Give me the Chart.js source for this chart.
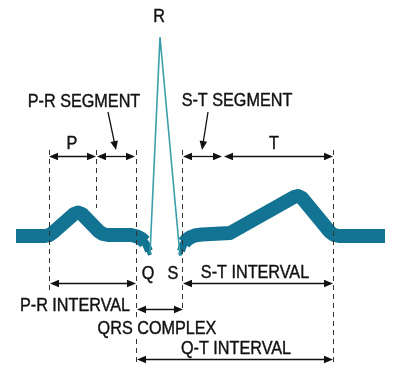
<!DOCTYPE html>
<html><head><meta charset="utf-8">
<script src="https://cdn.jsdelivr.net/npm/chart.js@4/dist/chart.umd.min.js"></script>
<style>html,body{margin:0;padding:0;background:#fff;}canvas{display:block;}</style>
</head><body>
<canvas id="c" width="395" height="369"></canvas>
<script>
// ECG waveform: time (arbitrary units) and amplitude (baseline = 0)
const preQTime = [16, 45, 49, 53, 74, 78, 82, 99, 103, 108, 131, 137, 141, 145];
const preQAmp  = [0, 0, 0.8, 3.5, 22, 23.5, 22, 4.5, 2, 1, 1, -0.5, -2.5, -6];
const qTailTime = [143, 146.5, 149];
const qTailAmp  = [-4, -9, -15];
const qTipTime  = [148, 150];
const qTipAmp   = [-13, -19];
const qrsTime  = [150, 160, 180];
const qrsAmp   = [-18, 199, -20];
const sTipTime  = [180, 181.5];
const sTipAmp   = [-19, -14];
const sTailTime = [181, 183, 186];
const sTailAmp  = [-15, -9, -5];
const postSTime = [184, 187, 191, 196, 202, 230, 294, 298, 302, 330, 334, 339, 385];
const postSAmp  = [-7, -3.5, -1, 0.8, 1.5, 3, 39, 40, 38, 4, 1, 0, 0];

// Boundaries (time) of the waves / segments
const boundaryTime = [49, 96, 136, 182, 333];
const boundaryTop  = [86, 86, 86, 86, 86];
const boundaryBot  = [-54, 28, -130, -76, -130];

// Interval arrows: start, end, level
const spanNames = ["P", "P-R SEGMENT", "S-T SEGMENT", "T", "P-R INTERVAL", "S-T INTERVAL", "QRS COMPLEX", "Q-T INTERVAL"];
const spanStart = [49, 97, 183, 224, 50, 183, 137, 137];
const spanEnd   = [96, 135, 222, 333, 136, 333, 183, 333];
const spanLevel = [80, 80, 80, 80, -47, -47, -73, -123];

// Text labels
const labelText = ["R", "P-R SEGMENT", "S-T SEGMENT", "P", "T", "Q", "S", "S-T INTERVAL", "P-R INTERVAL", "QRS COMPLEX", "Q-T INTERVAL"];
const labelTime = [159, 84, 237, 72, 274, 148, 173, 255, 75, 157, 236];
const labelAmp  = [220, 135, 136, 93, 93, -37, -37, -36, -69, -92, -112];

// Pointer arrows (from label to segment)
const pointerFromTime = [108, 208];
const pointerFromAmp  = [124, 124];
const pointerToTime   = [116, 202];
const pointerToAmp    = [86, 86];

const pts = (xs, ys) => xs.map((x, i) => ({x: x, y: ys[i]}));
const WAVE = '#137393';

function arrowHead(ctx, x, y, ang) {
  const L = 9, W = 3.8;
  ctx.save();
  ctx.translate(x, y);
  ctx.rotate(ang);
  ctx.beginPath();
  ctx.moveTo(0, 0);
  ctx.lineTo(-L, -W);
  ctx.lineTo(-L, W);
  ctx.closePath();
  ctx.fill();
  ctx.restore();
}

const annot = {
  id: 'annot',
  afterDatasetsDraw(chart) {
    const ctx = chart.ctx;
    const X = v => chart.scales.x.getPixelForValue(v);
    const Y = v => chart.scales.y.getPixelForValue(v);
    ctx.save();
    ctx.strokeStyle = '#333';
    ctx.lineWidth = 1;
    ctx.setLineDash([5, 4]);
    boundaryTime.forEach((t, i) => {
      const x = Math.round(X(t)) + 0.5;
      ctx.beginPath();
      ctx.moveTo(x, Y(boundaryTop[i]));
      ctx.lineTo(x, Y(boundaryBot[i]));
      ctx.stroke();
    });
    ctx.setLineDash([]);
    ctx.strokeStyle = '#111';
    ctx.fillStyle = '#111';
    ctx.lineWidth = 1.3;
    spanStart.forEach((s, i) => {
      const x0 = X(s), x1 = X(spanEnd[i]), y = Math.round(Y(spanLevel[i])) + 0.5;
      ctx.beginPath();
      ctx.moveTo(x0 + 4, y);
      ctx.lineTo(x1 - 4, y);
      ctx.stroke();
      arrowHead(ctx, x0, y, Math.PI);
      arrowHead(ctx, x1, y, 0);
    });
    pointerFromTime.forEach((t, i) => {
      const x0 = X(t), y0 = Y(pointerFromAmp[i]);
      const x1 = X(pointerToTime[i]), y1 = Y(pointerToAmp[i]);
      const ang = Math.atan2(y1 - y0, x1 - x0);
      ctx.beginPath();
      ctx.moveTo(x0, y0);
      ctx.lineTo(x1 - 4 * Math.cos(ang), y1 - 4 * Math.sin(ang));
      ctx.stroke();
      arrowHead(ctx, x1, y1, ang);
    });
    ctx.font = '18px "Liberation Sans", Arial, sans-serif';
    ctx.textAlign = 'center';
    ctx.textBaseline = 'middle';
    labelText.forEach((txt, i) => {
      const x = X(labelTime[i]), y = Y(labelAmp[i]);
      ctx.save();
      ctx.translate(x, y);
      ctx.scale(0.9, 1);
      if (txt === 'QRS COMPLEX') {
        const w = ctx.measureText(txt).width;
        ctx.fillStyle = '#fff';
        ctx.fillRect(-w / 2 - 2, -9, w + 4, 18);
      }
      ctx.fillStyle = '#111';
      ctx.strokeStyle = '#111';
      ctx.lineWidth = 0.4;
      ctx.fillText(txt, 0, 1);
      ctx.strokeText(txt, 0, 1);
      ctx.restore();
    });
    ctx.restore();
  }
};

const thick = (xs, ys, w) => ({
  data: pts(xs, ys), borderColor: WAVE, borderWidth: w, pointRadius: 0,
  tension: 0, clip: false, borderJoinStyle: 'round', borderCapStyle: 'butt'
});

new Chart(document.getElementById('c'), {
  type: 'line',
  data: {
    datasets: [
      {data: pts(qrsTime, qrsAmp), borderColor: '#3a9ea8', borderWidth: 1.6, pointRadius: 0, tension: 0, clip: false, borderJoinStyle: 'miter'},
      thick(qTipTime, qTipAmp, 4),
      thick(qTailTime, qTailAmp, 8),
      thick(preQTime, preQAmp, 14),
      thick(sTipTime, sTipAmp, 4),
      thick(sTailTime, sTailAmp, 8),
      thick(postSTime, postSAmp, 14)
    ]
  },
  options: {
    responsive: false,
    animation: false,
    devicePixelRatio: 1,
    layout: {padding: 0},
    scales: {
      x: {type: 'linear', min: 0, max: 395, display: false},
      y: {type: 'linear', min: -133, max: 236, display: false}
    },
    plugins: {legend: {display: false}, tooltip: {enabled: false}}
  },
  plugins: [annot]
});
</script>
</body></html>
